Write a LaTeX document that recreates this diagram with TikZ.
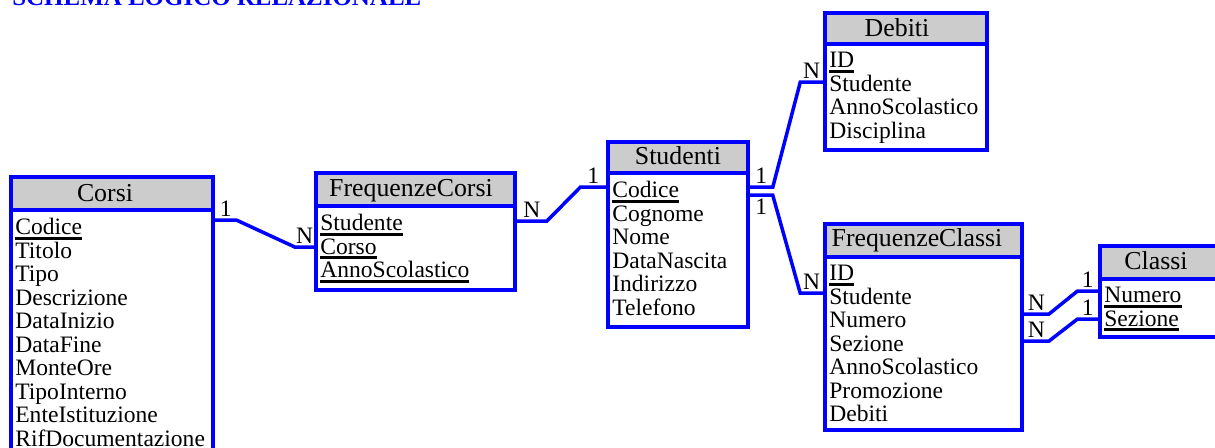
\documentclass[tikz,border=0pt]{standalone}
\usepackage{fontspec}
\setmainfont{Liberation Serif}
\usetikzlibrary{fit,calc}
\newcommand\chiave[1]{\setbox0\hbox{#1}\rlap{\rule[-2.8pt]{\wd0}{1.7pt}}\box0}
\begin{document}
\begin{tikzpicture}[x=0.02cm, y=-0.02cm,
        tabella/.style={draw=blue, line width=2pt, inner sep=0pt},
        testata/.style={tabella, fill=black!20},
        nome/.style={anchor=base, inner sep=0pt, font=\fontsize{14.7}{15}\selectfont},
        campi/.style={anchor=north west, inner sep=0pt, align=left, font=\fontsize{13.4}{13.38}\selectfont},
        lab/.style={inner sep=1pt, text=black, font=\fontsize{13.4}{14}\selectfont},
        rel/.style={blue, line width=2pt}]
        \useasboundingbox (0,0) rectangle (1215,448);
        \clip (0,0) rectangle (1215,448);
        \node[anchor=base west, inner sep=0pt, text=blue, font=\fontsize{14.2}{15}\selectfont\bfseries] (schema) at (12,6) {SCHEMA LOGICO RELAZIONALE};
        \node[tabella, fit={(11,177) (213,470)}] (corsi) {};
        \node[testata, fit={(11,177) (213,210)}] (corsiT) {};
        \node[nome] (corsiN) at (105,202) {Corsi};
        \node[campi] (corsiC) at (15,218) {\chiave{Codice}\\Titolo\\Tipo\\Descrizione\\DataInizio\\DataFine\\MonteOre\\TipoInterno\\EnteIstituzione\\RifDocumentazione};
        \node[tabella, fit={(316,173) (515,290)}] (fcorsi) {};
        \node[testata, fit={(316,173) (515,206)}] (fcorsiT) {};
        \node[nome] (fcorsiN) at (411,197) {FrequenzeCorsi};
        \node[campi] (fcorsiC) at (320,214) {\chiave{Studente}\\\chiave{Corso}\\\chiave{AnnoScolastico}};
        \node[tabella, fit={(608,142) (748,327)}] (studenti) {};
        \node[testata, fit={(608,142) (748,173)}] (studentiT) {};
        \node[nome] (studentiN) at (678,165) {Studenti};
        \node[campi] (studentiC) at (612,181) {\chiave{Codice}\\Cognome\\Nome\\DataNascita\\Indirizzo\\Telefono};
        \node[tabella, fit={(825,13) (987,150)}] (debiti) {};
        \node[testata, fit={(825,13) (987,44)}] (debitiT) {};
        \node[nome] (debitiN) at (897,37) {Debiti};
        \node[campi] (debitiC) at (829,52) {\chiave{ID}\\Studente\\AnnoScolastico\\Disciplina};
        \node[tabella, fit={(825,224) (1022,430)}] (fclassi) {};
        \node[testata, fit={(825,224) (1022,257)}] (fclassiT) {};
        \node[nome] (fclassiN) at (917,247) {FrequenzeClassi};
        \node[campi] (fclassiC) at (829,265) {\chiave{ID}\\Studente\\Numero\\Sezione\\AnnoScolastico\\Promozione\\Debiti};
        \node[tabella, fit={(1100,246) (1240,337)}] (classi) {};
        \node[testata, fit={(1100,246) (1240,279)}] (classiT) {};
        \node[nome] (classiN) at (1156,270) {Classi};
        \node[campi] (classiC) at (1104,287) {\chiave{Numero}\\\chiave{Sezione}};
        \draw[rel] ($(corsi.north east)+(0,45)$) -- node[lab, above]{1} ++(22,0) -- ($(fcorsi.north west)+(-19,76)$) -- node[lab, above]{N} ++(19,0);
        \draw[rel] ($(fcorsi.north east)+(0,50)$) -- node[lab, above]{N} ++(30,0) -- ($(studenti.north west)+(-26,47)$) -- node[lab, above]{1} ++(26,0);
        \draw[rel] ($(studenti.north east)+(0,47)$) -- node[lab, above]{1} ++(23,0) -- ($(debiti.north west)+(-23,71)$) -- node[lab, above]{N} ++(23,0);
        \draw[rel] ($(studenti.north east)+(0,55)$) -- node[lab, below]{1} ++(23,0) -- ($(fclassi.north west)+(-23,71)$) -- node[lab, above]{N} ++(23,0);
        \draw[rel] ($(fclassi.north east)+(0,92)$) -- node[lab, above]{N} ++(25,0) -- ($(classi.north west)+(-21,47)$) -- node[lab, above]{1} ++(21,0);
        \draw[rel] ($(fclassi.north east)+(0,119)$) -- node[lab, above]{N} ++(25,0) -- ($(classi.north west)+(-21,75)$) -- node[lab, above]{1} ++(21,0);
\end{tikzpicture}
\end{document}
